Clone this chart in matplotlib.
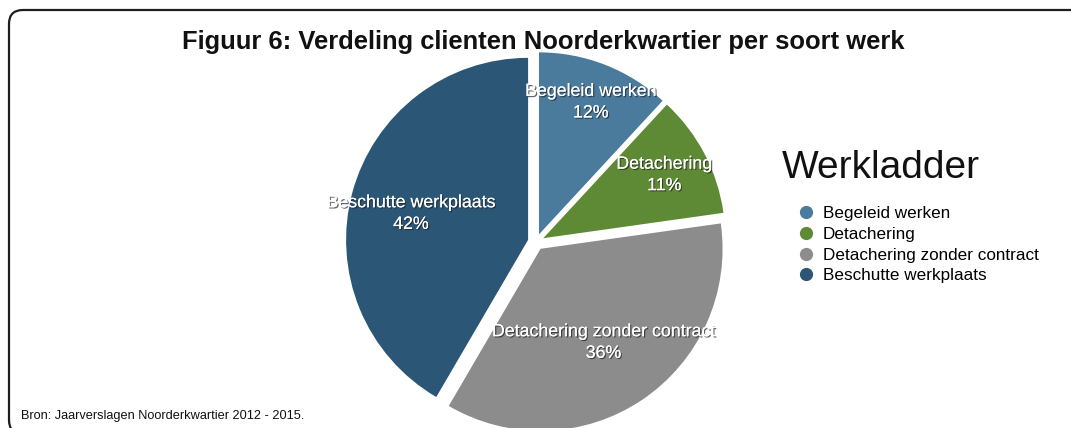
#!/usr/bin/env python3
"""Pie chart: verdeling clienten Noorderkwartier per soort werk."""

import matplotlib

matplotlib.use("Agg")
import matplotlib.patheffects as pe
import matplotlib.pyplot as plt
from matplotlib.lines import Line2D
from matplotlib.patches import FancyBboxPatch
import numpy as np

plt.rcParams["font.family"] = ["Liberation Sans", "DejaVu Sans"]

W, H = 1071, 428

categories = ["Begeleid werken", "Detachering", "Detachering zonder contract", "Beschutte werkplaats"]
percentages = [12, 11, 36, 42]
colors = ["#4a7b9d", "#5f8a35", "#8c8c8c", "#2b5675"]
label_radius = [0.78, 0.75, 0.62, 0.66]
label_turn = [0, 0, 0, 2.5]  # degrees, nudges label off the wedge bisector

TITLE = "Figuur 6: Verdeling clienten Noorderkwartier per soort werk"
LEGEND_TITLE = "Werkladder"
SOURCE = "Bron: Jaarverslagen Noorderkwartier 2012 - 2015."


def fx(px):
    return px / W


def fy(py):
    return 1 - py / H


fig = plt.figure(figsize=(W / 100, H / 100), dpi=100, facecolor="white")

# rounded frame, running off the right and bottom edge
frame = FancyBboxPatch(
    (0.09, -0.06), 11.0, 4.24,
    boxstyle="round,pad=0,rounding_size=0.14",
    transform=fig.dpi_scale_trans,
    facecolor="none", edgecolor="#1e1e1e", linewidth=1.6,
)
fig.patches.append(frame)

# pie axes: centre at (536, 242) px, radius 182 px
cx, cy, r = 536, 242, 182
half = 1.1 * r
ax = fig.add_axes([fx(cx - half), fy(cy + half), 2 * half / W, 2 * half / H])
ax.axis("off")

wedges, _ = ax.pie(
    percentages,
    colors=colors,
    startangle=90,
    counterclock=False,
    explode=[0.045] * len(percentages),
    wedgeprops={"linewidth": 0},
    radius=1.0,
)
ax.set_xlim(-1.1, 1.1)
ax.set_ylim(-1.1, 1.1)

shadow = [pe.withSimplePatchShadow(offset=(0.9, -0.9), shadow_rgbFace="#222222", alpha=0.7), pe.Normal()]
for wedge, name, pct, rad, turn in zip(wedges, categories, percentages, label_radius, label_turn):
    mid = np.deg2rad((wedge.theta1 + wedge.theta2) / 2 + turn)
    ox, oy = wedge.center
    ax.text(
        ox + rad * np.cos(mid), oy + rad * np.sin(mid),
        f"{name}\n{pct}%",
        ha="center", va="center", color="white", fontsize=12.8,
        linespacing=1.35, path_effects=shadow,
    )

fig.text(fx(543), fy(42), TITLE, ha="center", va="center", fontsize=18.4, weight="bold", color="#111111")

fig.text(fx(782), fy(168), LEGEND_TITLE, ha="left", va="center", fontsize=28, color="#111111")
handles = [
    Line2D([], [], marker="o", linestyle="none", markersize=8.5, markerfacecolor=c, markeredgecolor=c)
    for c in colors
]
fig.legend(
    handles, categories,
    loc="upper left", bbox_to_anchor=(fx(797), fy(206)),
    frameon=False, fontsize=12.3, handlelength=1.0, handletextpad=0.5,
    labelspacing=0.34, borderpad=0, borderaxespad=0,
)

fig.text(fx(21), fy(416), SOURCE, ha="left", va="center", fontsize=9.2, color="#111111")

fig.savefig("out.png", dpi=100, facecolor="white")
